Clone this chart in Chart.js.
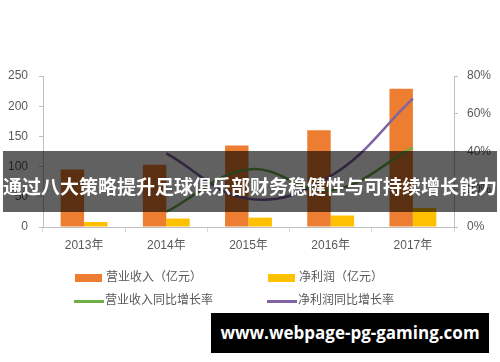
<!DOCTYPE html>
<html>
<head>
<meta charset="utf-8">
<script src="https://cdn.jsdelivr.net/npm/chart.js@4.4.1/dist/chart.umd.min.js"></script>
<style>
  body { margin: 0; background: #fff; }
  #wrap { position: relative; width: 500px; height: 362px; overflow: hidden; font-family: 'Liberation Sans', 'Noto Sans CJK SC', sans-serif; }
  #chart { position: absolute; left: 0; top: 0; }
  .lg { position: absolute; font-size: 12px; color: #595959; line-height: 14px; white-space: nowrap; }
  .sw { position: absolute; }
  #banner { position: absolute; left: 3px; top: 151px; width: 494px; height: 61px; background: rgba(0,0,0,0.62);
            color: #fff; font-family: 'Noto Sans CJK SC', sans-serif; font-weight: bold; font-size: 19px;
            line-height: 61px; text-align: center; white-space: nowrap; padding-top: 4px; box-sizing: border-box; }
  #mark { position: absolute; left: 211px; top: 313px; width: 278px; height: 40px; background: #000;
          color: #fff; font-family: 'Open Sans', sans-serif; font-weight: bold; font-size: 17px;
          line-height: 40px; text-align: center; white-space: nowrap; }
</style>
</head>
<body>
<div id="wrap">
  <canvas id="chart" width="500" height="362"></canvas>
  <div id="legend"></div>
  <div id="banner">通过八大策略提升足球俱乐部财务稳健性与可持续增长能力</div>
  <div id="mark">www.webpage-pg-gaming.com</div>
</div>
<script>
// 年份
const years = ['2013年', '2014年', '2015年', '2016年', '2017年'];
// 营业收入、净利润（亿元）
const revenue = [95, 103, 135, 160, 229];
const profit = [8.3, 14, 15.5, 19, 31.5];
// 同比增长率（%）
const revenueGrowth = [null, 8, 30.5, 19.5, 42];
const profitGrowth = [null, 39, 15, 27, 68];
// 坐标轴刻度
const leftTicks = [0, 50, 100, 150, 200, 250];
const rightTicks = [0, 20, 40, 60, 80];

const names = ['营业收入（亿元）', '净利润（亿元）', '营业收入同比增长率', '净利润同比增长率'];
const colors = ['#ED7D31', '#FFC000', '#70AD47', '#8064A2'];

const tickFont = { family: "'Liberation Sans', 'Noto Sans CJK SC', sans-serif", size: 12 };

new Chart(document.getElementById('chart'), {
  type: 'bar',
  data: {
    labels: years,
    datasets: [
      { label: names[0], data: revenue, backgroundColor: colors[0], yAxisID: 'y', order: 2,
        categoryPercentage: 0.57, barPercentage: 1.0 },
      { label: names[1], data: profit, backgroundColor: colors[1], yAxisID: 'y', order: 2,
        categoryPercentage: 0.57, barPercentage: 1.0 },
      { type: 'line', label: names[2], data: revenueGrowth, borderColor: colors[2], borderWidth: 2.5,
        tension: 0.4, pointRadius: 0, fill: false, yAxisID: 'y1', order: 1 },
      { type: 'line', label: names[3], data: profitGrowth, borderColor: colors[3], borderWidth: 2.5,
        tension: 0.4, pointRadius: 0, fill: false, yAxisID: 'y1', order: 1 }
    ]
  },
  options: {
    responsive: false,
    animation: false,
    layout: { padding: { top: 76, bottom: 105, left: 0, right: 0 } },
    plugins: { legend: { display: false }, tooltip: { enabled: false } },
    scales: {
      x: {
        grid: { display: true, drawOnChartArea: false, drawTicks: true, tickLength: 5, color: '#d9d9d9' },
        border: { color: '#bfbfbf' },
        ticks: { color: '#595959', font: tickFont, padding: 6, maxRotation: 0 },
        afterFit: s => { s.height = 30; }
      },
      y: {
        position: 'left',
        min: 0, max: 250,
        afterBuildTicks: s => { s.ticks = leftTicks.map(v => ({ value: v })); },
        grid: { display: true, drawOnChartArea: false, drawTicks: true, tickLength: 4, color: '#bfbfbf' },
        border: { color: '#bfbfbf' },
        ticks: { color: '#595959', font: tickFont, padding: 11 },
        afterFit: s => { s.width = 43; }
      },
      y1: {
        position: 'right',
        min: 0, max: 80,
        afterBuildTicks: s => { s.ticks = rightTicks.map(v => ({ value: v })); },
        grid: { display: true, drawOnChartArea: false, drawTicks: true, tickLength: 4, color: '#bfbfbf' },
        border: { color: '#bfbfbf' },
        ticks: { color: '#595959', font: tickFont, padding: 9, callback: v => v + '%' },
        afterFit: s => { s.width = 46; }
      }
    }
  }
});

// 图例（两行两列）
const legendPos = [
  { x: 75, y: 278, kind: 'box' },
  { x: 268, y: 278, kind: 'box' },
  { x: 74, y: 301, kind: 'line' },
  { x: 267, y: 301, kind: 'line' }
];
const legend = document.getElementById('legend');
names.forEach((n, i) => {
  const p = legendPos[i];
  const sw = document.createElement('div');
  sw.className = 'sw';
  sw.style.background = colors[i];
  if (p.kind === 'box') {
    sw.style.left = p.x + 'px'; sw.style.top = (p.y - 4) + 'px';
    sw.style.width = '27px'; sw.style.height = '8px';
  } else {
    sw.style.left = p.x + 'px'; sw.style.top = (p.y - 1) + 'px';
    sw.style.width = '30px'; sw.style.height = '3px';
  }
  legend.appendChild(sw);
  const t = document.createElement('div');
  t.className = 'lg';
  t.textContent = n;
  t.style.left = (p.x + 31) + 'px';
  t.style.top = (p.y - 8) + 'px';
  legend.appendChild(t);
});
</script>
</body>
</html>
